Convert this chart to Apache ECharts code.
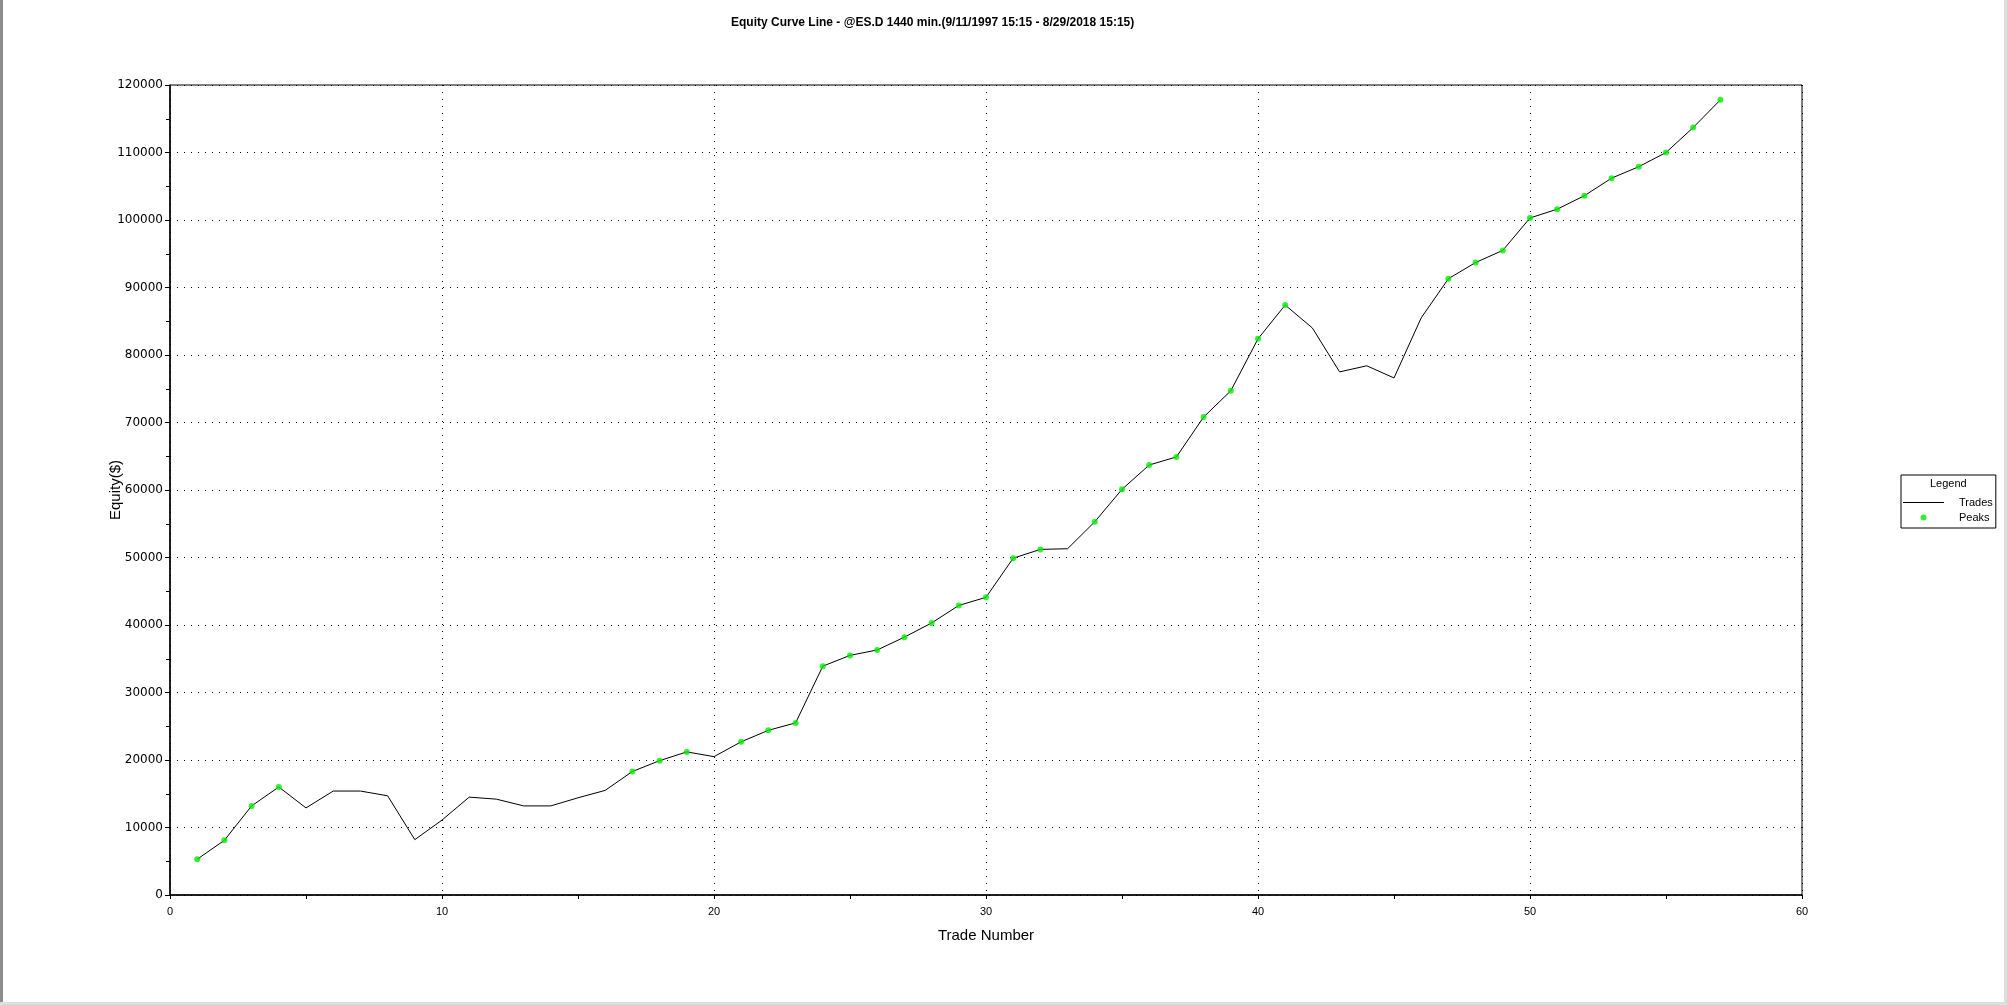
<!DOCTYPE html>
<html>
<head>
<meta charset="utf-8">
<script src="https://cdn.jsdelivr.net/npm/echarts@6/dist/echarts.min.js"></script>
<style>
html,body{margin:0;padding:0;background:#fff;}
#chart{width:2007px;height:1005px;}
</style>
</head>
<body>
<div id="chart"></div>
<script>
// Equity value after each trade (trade numbers 1..57)
var tradeNumbers = [1,2,3,4,5,6,7,8,9,10,11,12,13,14,15,16,17,18,19,20,21,22,23,24,25,26,27,28,29,30,31,32,33,34,35,36,37,38,39,40,41,42,43,44,45,46,47,48,49,50,51,52,53,54,55,56,57];
var equity = [5300,8100,13200,16000,12900,15400,15400,14700,8200,11100,
              14500,14200,13200,13200,14400,15500,18300,19900,21200,20500,
              22700,24400,25500,33900,35500,36300,38200,40300,42900,44100,
              49900,51200,51300,55300,60100,63700,64900,70800,74700,82400,
              87400,84000,77500,78400,76600,85500,91300,93700,95500,100300,
              101600,103600,106200,107900,110000,113700,117800];
// Trade numbers marked as new equity peaks
var peakTrades = [1,2,3,4,17,18,19,21,22,23,24,25,26,27,28,29,30,31,32,34,35,36,37,38,39,40,41,47,48,49,50,51,52,53,54,55,56,57];
var xTicks = [0,10,20,30,40,50,60];
var yTicks = [0,10000,20000,30000,40000,50000,60000,70000,80000,90000,100000,110000,120000];

var tradeData = tradeNumbers.map(function(n,i){return [n, equity[i]];});
var peakData = peakTrades.map(function(n){return [n, equity[tradeNumbers.indexOf(n)]];});

var chart = echarts.init(document.getElementById('chart'), null, {renderer:'canvas'});
var axisFont = 'DejaVu Sans, Verdana, sans-serif';
var option = {
  backgroundColor:'#ffffff',
  animation:false,
  title:{
    text:'Equity Curve Line - @ES.D 1440 min.(9/11/1997 15:15 - 8/29/2018 15:15)',
    left:726, top:12,
    textStyle:{fontFamily:'Liberation Sans Narrow, Arial Narrow, Liberation Sans, Arial, sans-serif', fontSize:12, fontWeight:'bold', color:'#000'}
  },
  grid:{left:170, right:205, top:85, bottom:110, show:true, borderColor:'#000', borderWidth:1, backgroundColor:'transparent'},
  legend:{
    orient:'vertical', left:1901, top:475,
    borderColor:'#000', borderWidth:1, borderRadius:0,
    padding:[22,3,5,2],
    itemWidth:41, itemHeight:6, itemGap:4,
    textStyle:{fontFamily:'Liberation Sans, Arial, sans-serif', fontSize:11, color:'#000', padding:[0,0,0,10]},
    data:[{name:'Trades', icon:'path://M0,0L41,0L41,1L0,1Z'},{name:'Peaks', icon:'circle'}]
  },
  graphic:[
    {type:'text', left:1930, top:478, style:{text:'Legend', fontFamily:'Liberation Sans, Arial, sans-serif', fontSize:11, fill:'#000'}},
    {type:'rect', left:0, top:0, shape:{width:3, height:1005}, style:{fill:'#8c8c8c'}, silent:true},
    {type:'rect', left:2004, top:0, shape:{width:3, height:1005}, style:{fill:'#dedede'}, silent:true},
    {type:'rect', left:0, top:1002, shape:{width:2007, height:3}, style:{fill:'#dedede'}, silent:true}
  ],
  xAxis:{
    type:'value', min:xTicks[0], max:xTicks[xTicks.length-1], interval:10,
    name:'Trade Number', nameLocation:'middle', nameGap:33, nameMoveOverlap:false,
    nameTextStyle:{fontFamily:'Liberation Sans, Arial, sans-serif', fontSize:15, color:'#000'},
    axisLine:{show:true, onZero:false, lineStyle:{color:'#000', width:1.5}},
    axisTick:{show:true, length:4, lineStyle:{color:'#000'}},
    minorTick:{show:true, splitNumber:2, length:4, lineStyle:{color:'#000'}},
    axisLabel:{margin:11, fontFamily:'Liberation Sans Narrow, Arial Narrow, Liberation Sans, sans-serif', fontSize:11, color:'#000'},
    splitLine:{show:true, lineStyle:{color:'#000', width:1, type:[1,6]}}
  },
  yAxis:{
    type:'value', min:yTicks[0], max:yTicks[yTicks.length-1], interval:10000,
    name:'Equity($)', nameLocation:'middle', nameGap:47, nameRotate:90, nameMoveOverlap:false,
    nameTextStyle:{fontFamily:'Liberation Sans, Arial, sans-serif', fontSize:15, color:'#000'},
    axisLine:{show:true, lineStyle:{color:'#000', width:1.5}},
    axisTick:{show:true, length:5, lineStyle:{color:'#000'}},
    minorTick:{show:true, splitNumber:2, length:4, lineStyle:{color:'#000'}},
    axisLabel:{margin:7, fontFamily:axisFont, fontSize:12, color:'#000', formatter:function(v){return String(v);}},
    splitLine:{show:true, lineStyle:{color:'#000', width:1, type:[1,6]}}
  },
  series:[
    {name:'Trades', type:'line', data:tradeData, symbol:'none', showSymbol:false,
     lineStyle:{color:'#000', width:1}, itemStyle:{color:'#000'}, z:2},
    {name:'Peaks', type:'scatter', data:peakData, symbol:'circle', symbolSize:6,
     itemStyle:{color:'#00ee00'}, z:3}
  ]
};
chart.setOption(option);
</script>
</body>
</html>
